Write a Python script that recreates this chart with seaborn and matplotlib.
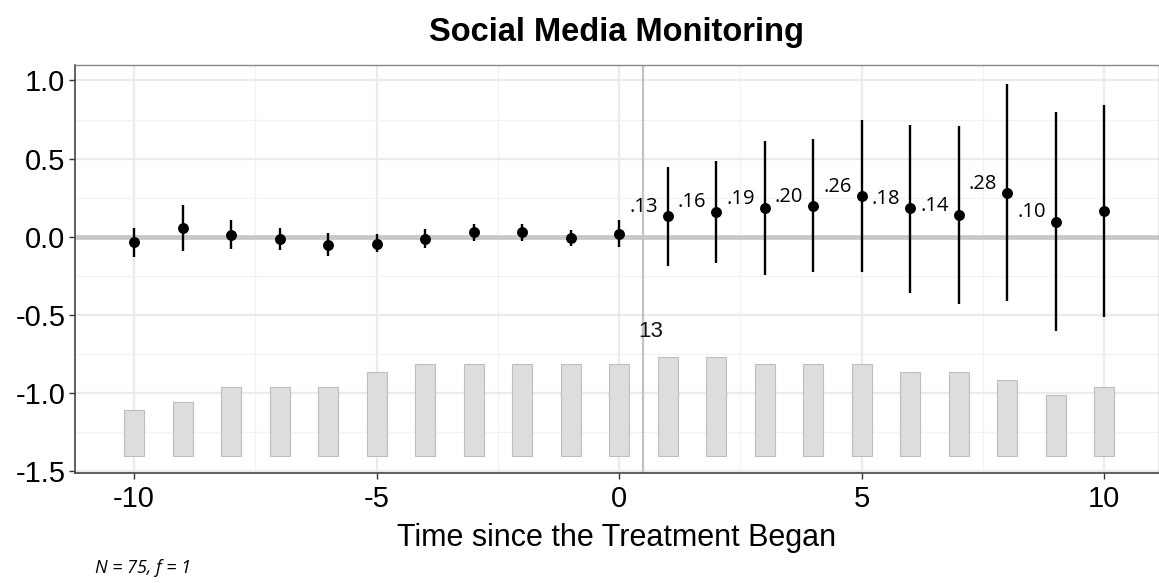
import numpy as np
import pandas as pd
import matplotlib
matplotlib.use("Agg")
import matplotlib.pyplot as plt
import seaborn as sns

# ---- data ----
periods = list(range(-10, 11))
estimates = [-0.032, 0.056, 0.013, -0.013, -0.051, -0.043, -0.013, 0.028, 0.028, -0.006,
             0.021, 0.133, 0.160, 0.184, 0.197, 0.261, 0.182, 0.138, 0.280, 0.096, 0.165]
ci_lower = [-0.128, -0.088, -0.075, -0.083, -0.124, -0.100, -0.073, -0.024, -0.028, -0.056,
            -0.064, -0.184, -0.169, -0.242, -0.227, -0.227, -0.358, -0.430, -0.410, -0.605, -0.513]
ci_upper = [0.058, 0.203, 0.107, 0.058, 0.026, 0.015, 0.049, 0.079, 0.079, 0.045,
            0.105, 0.445, 0.484, 0.610, 0.623, 0.745, 0.717, 0.711, 0.975, 0.800, 0.845]
counts = [6, 7, 9, 9, 9, 11, 12, 12, 12, 12, 12, 13, 13, 12, 12, 12, 11, 11, 10, 8, 9]
label_periods = [1, 2, 3, 4, 5, 6, 7, 8, 9]
label_texts = [".13", ".16", ".19", ".20", ".26", ".18", ".14", ".28", ".10"]
title = "Social Media Monitoring"
xlabel = "Time since the Treatment Began"
note = "N = 75, f = 1"

df = pd.DataFrame({"period": periods, "est": estimates, "lo": ci_lower, "hi": ci_upper,
                   "count": counts})

sns.set_theme(style="whitegrid")
plt.rcParams['font.family'] = ['Liberation Sans', 'DejaVu Sans']

fig = plt.figure(figsize=(11.59, 5.83), dpi=100)
ax = fig.add_axes([0.0647, 0.1887, 0.9353, 0.6998])

# count bars at bottom
bar_base = -1.40
bar_span = 0.633
df["bar_h"] = df["count"] / max(counts) * bar_span
sns.barplot(data=df, x="period", y="bar_h", native_scale=True, width=0.41,
            bottom=bar_base, color="#DDDDDD", edgecolor="#BDBDBD", linewidth=0.8,
            saturation=1, ax=ax, zorder=2)
imax = int(np.argmax(counts))
ax.text(periods[imax] - 0.34, bar_base + bar_span + 0.16, str(max(counts)),
        fontsize=16, ha="center", va="center", color="#111111", zorder=5)

# reference lines
ax.axhline(0, color="#C8C8C8", lw=3.4, zorder=1.5)
ax.axvline(0.5, color="#C2C2C2", lw=1.6, zorder=1.5)

# error bars + points
ax.vlines(df["period"], df["lo"], df["hi"], color="black", lw=1.7, zorder=3)
sns.scatterplot(data=df, x="period", y="est", color="black", s=62, edgecolor="black",
                linewidth=0, ax=ax, zorder=4)

# estimate labels
lab = df.set_index("period").loc[label_periods]
for p, t, y in zip(label_periods, label_texts, lab["est"]):
    ax.text(p - 0.5, y + 0.06, t, fontsize=14.5, ha="center", va="center",
            family=["Open Sans", "DejaVu Sans"], color="black", zorder=5)

ax.set_xlim(-11.22, 11.13)
ax.set_ylim(-1.511, 1.099)
ax.set_xticks([-10, -5, 0, 5, 10])
ax.set_xticklabels(["-10", "-5", "0", "5", "10"])
ax.set_yticks([-1.5, -1.0, -0.5, 0.0, 0.5, 1.0])
ax.set_yticklabels(["-1.5", "-1.0", "-0.5", "0.0", "0.5", "1.0"])
ax.set_xticks([-7.5, -2.5, 2.5, 7.5], minor=True)
ax.set_yticks([-1.25, -0.75, -0.25, 0.25, 0.75], minor=True)
ax.grid(which="major", color="#EBEBEB", lw=1.6)
ax.grid(which="minor", color="#F2F2F2", lw=0.9)
ax.set_axisbelow(True)

ax.tick_params(axis="x", which="major", pad=5)
ax.tick_params(axis="both", which="major", labelsize=21, length=4, width=1,
               color="#333333", labelcolor="black", direction="out",
               bottom=True, left=True)
ax.tick_params(axis="y", which="major", pad=3)
ax.tick_params(which="minor", length=0)
for side in ["left", "bottom"]:
    ax.spines[side].set_color("#444444")
    ax.spines[side].set_linewidth(1.2)
for side in ["top", "right"]:
    ax.spines[side].set_color("#888888")
    ax.spines[side].set_linewidth(1.0)

ax.set_xlabel(xlabel, fontsize=22, labelpad=7, color="black")
ax.set_ylabel("")
ax.set_title(title, fontsize=23.5, fontweight="bold", pad=17, color="black")

fig.text(0.082, 0.018, note, fontsize=13, style="italic",
         family=["Open Sans", "DejaVu Sans"], color="black")

fig.savefig("out.png", dpi=100)
